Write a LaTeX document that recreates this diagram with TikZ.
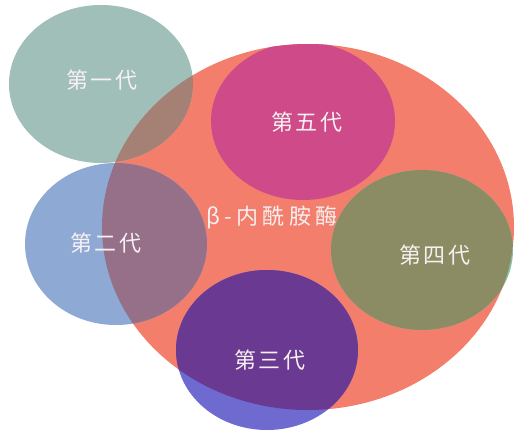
\documentclass[tikz,border=0pt]{standalone}
\usepackage{fontspec}
\newfontfamily\cjk[LetterSpace=10]{Noto Sans CJK SC}
\newfontfamily\cjkwide[LetterSpace=20]{Noto Sans CJK SC}
\usetikzlibrary{positioning}

\definecolor{salmon}{HTML}{F47E6C}
\definecolor{teal1}{HTML}{A0BFB8}
\definecolor{teal1in}{HTML}{A58075}
\definecolor{blue2}{HTML}{8EAAD4}
\definecolor{blue2in}{HTML}{957088}
\definecolor{purple3}{HTML}{6E6ACF}
\definecolor{purple3in}{HTML}{6A3A92}
\definecolor{olive4}{HTML}{86C0A0}
\definecolor{olive4in}{HTML}{8C8C64}
\definecolor{magenta5in}{HTML}{CF4A88}
\definecolor{txt}{HTML}{F6F0F2}

\begin{document}
\begin{tikzpicture}[x=1pt,y=-1pt,
  gen/.style={text=txt,font=\cjk\fontsize{22}{22}\selectfont}]
\useasboundingbox (0,0) rectangle (524,436);

% centres of the ellipses
\coordinate (E0) at (308,227);
\coordinate (E1) at (101,84);
\coordinate (E2) at (116,244);
\coordinate (E3) at (267,350);
\coordinate (E4) at (422,250);
\coordinate (E5) at (303,121);

\fill[salmon] (E0) ellipse (206 and 183);

\fill[teal1] (E1) ellipse (92 and 79);
\fill[blue2] (E2) ellipse (91 and 81);
\fill[purple3] (E3) ellipse (91 and 80);
\fill[olive4] (E4) ellipse (91 and 80);

% parts that lie on the big ellipse
\begin{scope}
\clip (E0) ellipse (206 and 183);
\fill[teal1in] (E1) ellipse (92 and 79);
\fill[blue2in] (E2) ellipse (91 and 81);
\fill[purple3in] (E3) ellipse (91 and 80);
\fill[olive4in] (E4) ellipse (91 and 80);
\fill[magenta5in] (E5) ellipse (92 and 79);
\end{scope}

\node[gen] (G1) at (102,80) {第一代};
\node[gen] (G2) at (106,243) {第二代};
\node[gen] (G3) at (270,360) {第三代};
\node[gen] (G4) at (435,255) {第四代};
\node[gen] (G5) at (307,122) {第五代};
\node[gen,font=\cjkwide\fontsize{22}{22}\selectfont] (bla) at (272,217) {β-内酰胺酶};
\end{tikzpicture}
\end{document}
